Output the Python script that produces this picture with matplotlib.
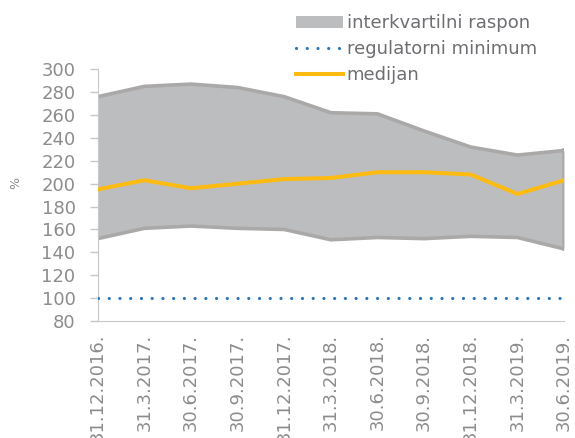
import matplotlib
matplotlib.use("Agg")
import matplotlib.pyplot as plt
from matplotlib.patches import Patch
from matplotlib.lines import Line2D

# quarterly dates
dates = ["31.12.2016.", "31.3.2017.", "30.6.2017.", "30.9.2017.", "31.12.2017.",
         "31.3.2018.", "30.6.2018.", "30.9.2018.", "31.12.2018.", "31.3.2019.",
         "30.6.2019."]
q3 = [276, 285, 287, 284, 276, 262, 261, 246, 232, 225, 229]
q1 = [152, 161, 163, 161, 160, 151, 153, 152, 154, 153, 143]
median = [195, 203, 196, 200, 204, 205, 210, 210, 208, 191, 203]
reg_min = [100] * len(dates)

plt.rcParams['font.family'] = ['Liberation Sans Narrow', 'DejaVu Sans']

fig = plt.figure(figsize=(5.75, 4.38), dpi=100)
ax = fig.add_axes([0.170, 0.267, 0.811, 0.575])

x = list(range(len(dates)))
fill_col = "#BCBDBF"
edge_col = "#ABA8A8"
ax.fill_between(x, q1, q3, color=fill_col, lw=0, zorder=1)
ax.plot(x, q3, color=edge_col, lw=2.6, zorder=2)
ax.plot(x, q1, color=edge_col, lw=2.6, zorder=2)
ax.plot([x[-1], x[-1]], [q1[-1], q3[-1]], color=edge_col, lw=2.6, zorder=2)
ax.plot(x, median, color="#FDBB12", lw=2.9, zorder=3)
ax.plot(x, reg_min, color="#2A76BB", lw=2.3, linestyle=(0, (0.01, 3.35)),
        dash_capstyle="round", zorder=3)

ax.set_xlim(0, 10)
ax.set_ylim(80, 300)
ax.set_yticks(range(80, 301, 20))
ax.set_xticks(x)
ax.set_xticklabels(dates, rotation=90, va="top", ha="center")

tick_col = "#8C8C8C"
spine_col = "#C8C8C8"
ax.tick_params(axis="y", colors=spine_col, labelcolor=tick_col, labelsize=13,
               length=6, width=1, direction="out", pad=10)
ax.tick_params(axis="x", length=0, labelcolor=tick_col, labelsize=13, pad=9)
for s in ["top", "right"]:
    ax.spines[s].set_visible(False)
ax.spines["left"].set_color(spine_col)
ax.spines["bottom"].set_color(spine_col)
ax.spines["bottom"].set_bounds(-0.13, 10)

fig.text(0.028, 0.582, "%", rotation=90, color=tick_col, fontsize=9,
         ha="center", va="center")

handles = [
    Patch(facecolor=fill_col, edgecolor="none"),
    Line2D([], [], color="#2A76BB", lw=2.3, linestyle=(0, (0.01, 3.35)),
           dash_capstyle="round"),
    Line2D([], [], color="#FDBB12", lw=2.9),
]
labels = ["interkvartilni raspon", "regulatorni minimum", "medijan"]
fig.legend(handles, labels, loc="upper left", bbox_to_anchor=(0.49, 1.0),
           frameon=False, fontsize=13, handlelength=2.6, handleheight=0.6,
           handletextpad=0.2, labelspacing=0.42, borderaxespad=0.4,
           labelcolor="#6D6E71")

fig.savefig("out.png", dpi=100)
